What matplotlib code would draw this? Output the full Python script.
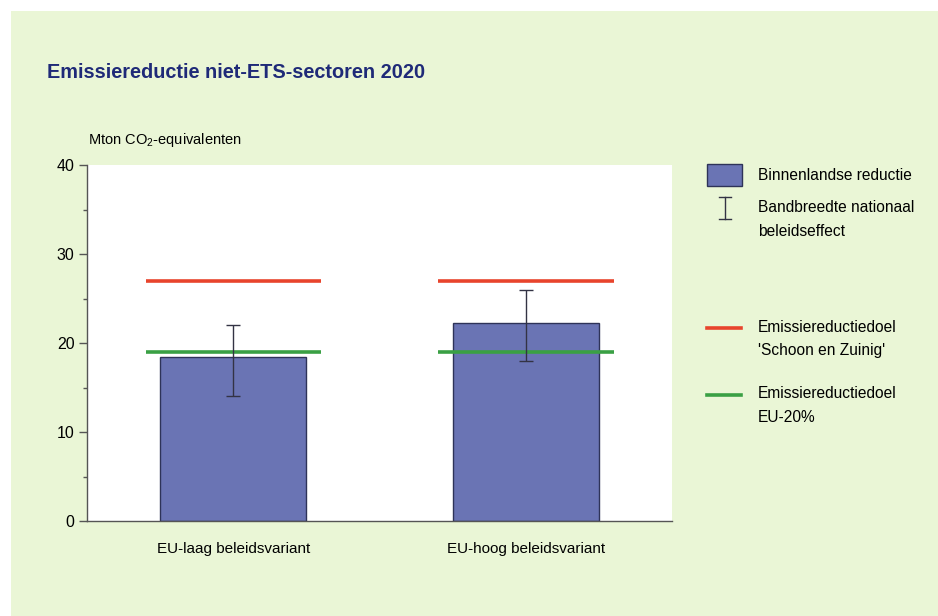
import matplotlib
matplotlib.use("Agg")
from matplotlib import pyplot as plt
from matplotlib.patches import Rectangle
from matplotlib.lines import Line2D
import numpy as np

categories = ['EU-laag beleidsvariant', 'EU-hoog beleidsvariant']
binnenlands = [18.4, 22.2]
band_low = [14.0, 18.0]
band_high = [22.0, 26.0]
doel_schoon = [27.0, 27.0]
doel_eu20 = [19.0, 19.0]

bg = '#eaf6d6'
bar_color = '#6a74b4'
red = '#e8442c'
green = '#3aa044'
navy = '#1f2a78'

plt.rcParams['font.family'] = ['Liberation Sans', 'DejaVu Sans']
plt.rcParams['mathtext.fontset'] = 'custom'
plt.rcParams['mathtext.rm'] = 'Liberation Sans'

fig = plt.figure(figsize=(9.38, 6.16), dpi=100)
fig.patch.set_facecolor('white')
fig.add_artist(Rectangle((11 / 938, 0), 1, 1 - 11 / 616, transform=fig.transFigure,
                         facecolor=bg, edgecolor='none', zorder=-10))

ax = fig.add_axes([87 / 938, 1 - 521 / 616, (672 - 87) / 938, (521 - 165) / 616])
ax.set_facecolor('white')

x = np.arange(len(categories)) + 0.5
ax.bar(x, binnenlands, width=0.5, color=bar_color, edgecolor='#2e3358', linewidth=1, zorder=2)
ax.hlines(doel_schoon, x - 0.3, x + 0.3, color=red, linewidth=2.6, zorder=3)
ax.hlines(doel_eu20, x - 0.3, x + 0.3, color=green, linewidth=2.6, zorder=3)
mid = [(l + h) / 2 for l, h in zip(band_low, band_high)]
err = [[m - l for m, l in zip(mid, band_low)], [h - m for h, m in zip(band_high, mid)]]
ax.errorbar(x, mid, yerr=err, fmt='none', ecolor='#333344', elinewidth=1, capsize=5,
            capthick=1, zorder=4)

ax.set_xlim(0, 2)
ax.set_ylim(0, 40)
ax.set_yticks([0, 10, 20, 30, 40])
ax.set_yticks([5, 15, 25, 35], minor=True)
ax.set_xticks(x)
ax.set_xticklabels(categories, fontsize=11)
ax.tick_params(axis='x', length=0, pad=15)
ax.tick_params(axis='y', which='major', length=6, width=1, color='#555555', labelsize=11.5, pad=3)
ax.tick_params(axis='y', which='minor', length=3, width=1, color='#555555')
for s in ['top', 'right']:
    ax.spines[s].set_visible(False)
for s in ['left', 'bottom']:
    ax.spines[s].set_color('#555555')
    ax.spines[s].set_linewidth(1)

fig.text(47 / 938, 1 - 72 / 616, 'Emissiereductie niet-ETS-sectoren 2020', fontsize=14.3,
         fontweight='bold', color=navy, va='center', ha='left')
fig.text(88 / 938, 1 - 140 / 616, 'Mton CO$_2$-equivalenten', fontsize=10.5, va='center', ha='left')

# legend
fig.add_artist(Rectangle((707 / 938, 1 - 186 / 616), 35 / 938, 22 / 616, transform=fig.transFigure,
                         facecolor=bar_color, edgecolor='#2e3358', linewidth=1))
ex = 725 / 938
fig.add_artist(Line2D([ex, ex], [1 - 197 / 616, 1 - 219 / 616], transform=fig.transFigure,
                      color='#333344', linewidth=1))
for yy in [197, 219]:
    fig.add_artist(Line2D([ex - 6 / 938, ex + 6 / 938], [1 - yy / 616] * 2,
                          transform=fig.transFigure, color='#333344', linewidth=1))
fig.add_artist(Line2D([707 / 938, 741 / 938], [1 - 328 / 616] * 2, transform=fig.transFigure,
                      color=red, linewidth=2.6))
fig.add_artist(Line2D([707 / 938, 741 / 938], [1 - 395 / 616] * 2, transform=fig.transFigure,
                      color=green, linewidth=2.6))

lx = 758 / 938
leg_texts = [(176, 'Binnenlandse reductie'), (207, 'Bandbreedte nationaal'), (232, 'beleidseffect'),
             (327, 'Emissiereductiedoel'), (351, "'Schoon en Zuinig'"),
             (394, 'Emissiereductiedoel'), (418, 'EU-20%')]
for yy, t in leg_texts:
    fig.text(lx, 1 - yy / 616, t, fontsize=11.2, va='center', ha='left')

fig.savefig('out.png', dpi=100, facecolor=fig.get_facecolor())
